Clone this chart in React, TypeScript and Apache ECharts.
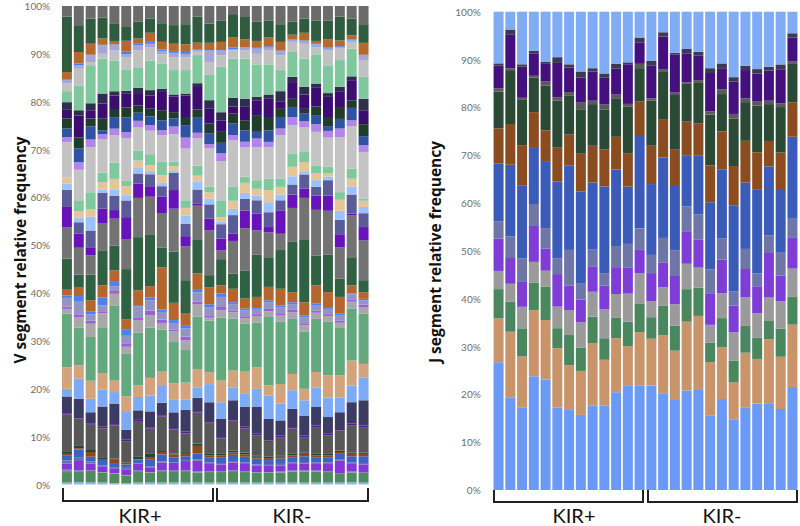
import React, { useEffect, useRef } from "react";
import * as echarts from "echarts";

// ---------- categories ----------
const samples = [
  "P01", "P02", "P03", "P04", "P05", "P06", "P07", "P08", "P09", "P10", "P11", "P12", "P13",
  "N01", "N02", "N03", "N04", "N05", "N06", "N07", "N08", "N09", "N10", "N11", "N12", "N13",
];
const groupLabels = ["KIR+", "KIR-"];
const vTitle = "V segment relative frequency";
const jTitle = "J segment relative frequency";

// ---------- V segment data (bottom -> top), percent ----------
const vTiny = [0.4, 0.5, 0.4, 0.4, 0.3, 0.3, 0.4, 0.4, 0.4, 0.4, 0.4, 0.4, 0.4, 0.4, 0.4, 0.4, 0.4, 0.4, 0.4, 0.4, 0.4, 0.4, 0.4, 0.4, 0.5, 0.4];
const vGreenA = [2.2, 2.1, 2.4, 2.1, 2.0, 1.6, 2.4, 2.1, 2.4, 2.4, 2.4, 2.1, 2.2, 2.2, 2.4, 2.2, 2.1, 2.1, 2.1, 2.3, 2.3, 2.3, 2.2, 1.8, 2.0, 2.0];
const vLavA = [0.5, 0.3, 0.2, 0.1, 0.1, 0.1, 0.1, 0.1, 0.2, 0.1, 0.2, 0.3, 0.2, 0.2, 0.2, 0.2, 0.1, 0.1, 0.2, 0.2, 0.2, 0.2, 0.2, 0.2, 0.2, 0.2];
const vPurpleA = [1.3, 2.0, 1.4, 1.2, 1.0, 1.2, 1.5, 1.0, 1.6, 1.6, 1.9, 2.2, 1.5, 1.4, 1.6, 1.5, 1.4, 1.3, 1.3, 1.4, 1.5, 1.4, 1.5, 2.6, 1.6, 1.6];
const vSlateA = [0.6, 0.7, 0.4, 0.2, 0.1, 0.3, 0.1, 0.2, 0.2, 0.1, 0.2, 0.3, 0.3, 0.3, 0.3, 0.3, 0.2, 0.2, 0.3, 0.3, 0.3, 0.3, 0.3, 0.3, 0.3, 0.3];
const vBlueA = [1.0, 1.7, 1.0, 1.1, 0.8, 0.7, 0.7, 1.5, 1.5, 1.1, 0.8, 1.2, 1.0, 1.2, 1.3, 1.2, 1.2, 1.0, 1.1, 1.1, 1.2, 1.1, 1.1, 1.1, 1.3, 1.4];
const vBrownA = [0.4, 0.3, 1.0, 0.1, 1.0, 0.4, 0.1, 0.3, 0.5, 0.6, 0.7, 1.6, 0.5, 0.4, 0.5, 0.5, 0.4, 0.4, 0.4, 0.4, 0.5, 0.4, 0.4, 0.4, 0.5, 0.5];
const vDkGreenA = [0.4, 0.6, 0.4, 0.5, 0.1, 0.1, 0.6, 0.8, 0.2, 0.2, 0.2, 0.5, 0.3, 0.3, 0.4, 0.4, 0.3, 0.3, 0.3, 0.3, 0.3, 0.3, 0.3, 0.3, 0.3, 0.3];
const vDkGray = [7.8, 5.6, 5.3, 6.0, 6.9, 4.4, 7.2, 5.3, 7.2, 5.0, 3.9, 6.5, 6.3, 3.2, 6.0, 5.0, 4.2, 3.1, 3.8, 5.3, 3.2, 5.6, 3.9, 4.2, 5.7, 5.3];
const vDkPurple = [0.3, 0.3, 0.3, 0.4, 0.3, 0.3, 0.4, 0.3, 0.3, 0.3, 0.4, 0.3, 0.3, 0.3, 0.3, 0.4, 0.3, 0.3, 0.3, 0.3, 0.3, 0.3, 0.3, 0.3, 0.3, 0.3];
const vNavy = [3.5, 3.8, 2.3, 4.2, 4.3, 2.1, 2.0, 3.3, 2.6, 3.3, 4.5, 2.8, 4.2, 3.8, 4.2, 4.2, 5.6, 4.5, 3.2, 3.8, 4.2, 3.9, 3.5, 3.5, 4.5, 5.3];
const vLBlue = [1.6, 4.2, 2.8, 3.5, 2.4, 3.7, 2.8, 3.3, 3.5, 2.6, 2.2, 2.1, 3.8, 3.5, 2.7, 2.8, 3.8, 4.9, 3.5, 3.9, 3.2, 4.1, 4.1, 3.1, 3.5, 4.8];
const vTan = [4.5, 2.8, 3.8, 3.5, 2.4, 3.3, 2.4, 3.7, 3.0, 3.5, 3.5, 3.8, 2.5, 4.5, 3.5, 4.5, 4.5, 2.1, 4.1, 3.4, 2.4, 3.2, 4.6, 4.6, 5.2, 2.8];
const vMidGreen = [11.2, 7.9, 9.1, 9.6, 15.7, 8.9, 11.0, 10.5, 8.8, 8.6, 6.8, 11.1, 10.8, 13.2, 10.9, 10.0, 9.3, 14.3, 13.0, 11.5, 12.0, 11.1, 11.2, 9.9, 10.8, 10.5];
const vGray = [1.0, 2.1, 2.8, 2.9, 2.4, 1.5, 2.6, 2.6, 1.4, 2.3, 2.0, 2.6, 0.6, 1.5, 1.3, 1.2, 1.4, 1.2, 1.3, 1.4, 1.3, 1.3, 1.2, 1.1, 1.5, 1.4];
const vPurple2 = [0.5, 0.7, 0.6, 0.3, 0.6, 0.6, 0.5, 1.0, 0.7, 0.3, 0.8, 0.6, 0.5, 0.7, 0.4, 0.4, 0.4, 0.5, 0.5, 0.5, 0.4, 0.4, 0.4, 0.4, 0.5, 0.5];
const vLavGray = [1.8, 2.6, 1.4, 1.4, 1.0, 1.7, 2.4, 2.1, 1.6, 1.4, 1.7, 1.9, 1.7, 2.1, 1.3, 1.2, 1.1, 1.4, 1.2, 1.2, 1.2, 1.2, 1.1, 1.2, 1.0, 0.9];
const vBlue2 = [0.5, 1.2, 0.5, 1.6, 0.9, 1.4, 0.3, 0.6, 0.5, 0.6, 0.7, 0.7, 0.6, 0.7, 0.4, 0.4, 0.4, 0.4, 0.4, 0.4, 0.4, 0.3, 0.4, 0.3, 0.2, 0.3];
const vBrown2 = [1.2, 1.9, 2.4, 2.6, 2.4, 2.1, 3.1, 2.4, 8.8, 3.6, 2.4, 3.3, 3.5, 1.7, 2.8, 2.1, 2.1, 2.8, 3.5, 2.1, 2.8, 3.8, 3.1, 3.5, 1.7, 1.4];
const vDkGreen2 = [6.5, 2.6, 5.4, 7.3, 5.2, 10.5, 11.1, 10.7, 4.2, 10.7, 7.0, 7.0, 2.6, 5.5, 3.2, 5.9, 8.8, 6.2, 8.1, 10.5, 13.0, 6.2, 7.8, 3.8, 5.9, 2.5];
const vGray2 = [6.6, 5.6, 4.0, 5.7, 5.6, 6.3, 8.2, 8.0, 7.2, 9.0, 7.1, 7.2, 9.4, 1.8, 6.8, 8.8, 5.1, 5.2, 3.4, 7.1, 8.8, 9.6, 9.2, 6.6, 8.8, 8.3];
const vPurple3 = [4.2, 2.9, 1.7, 3.0, 1.8, 4.6, 3.0, 2.2, 3.4, 3.9, 2.1, 0.5, 2.4, 2.5, 1.5, 3.7, 3.5, 1.1, 4.9, 2.8, 1.9, 3.0, 3.2, 2.7, 0.3, 2.8];
const vSlate2 = [3.6, 2.4, 3.5, 3.3, 3.0, 3.5, 2.1, 2.5, 2.2, 3.6, 2.6, 2.9, 3.0, 3.0, 3.9, 2.5, 2.8, 3.1, 2.1, 2.1, 3.0, 1.8, 3.2, 3.0, 4.0, 2.9];
const vLBlue2 = [1.3, 1.0, 2.9, 0.7, 1.2, 1.1, 1.3, 0.7, 0.7, 0.4, 1.7, 1.7, 1.2, 0.5, 1.3, 1.2, 1.0, 2.1, 1.2, 1.7, 0.5, 1.4, 0.7, 1.9, 1.7, 1.3];
const vTan2 = [1.3, 1.3, 1.6, 1.6, 2.3, 1.9, 1.4, 1.2, 1.6, 1.0, 1.6, 1.2, 1.3, 1.0, 1.7, 2.1, 1.4, 2.5, 1.6, 2.0, 2.1, 1.5, 0.8, 2.3, 1.6, 1.3];
const vLGreen = [0.0, 2.3, 3.5, 1.9, 3.4, 1.1, 2.1, 2.3, 2.8, 0.9, 1.6, 2.1, 1.2, 3.5, 2.9, 1.3, 1.8, 2.4, 1.7, 2.8, 2.1, 1.6, 1.3, 1.6, 2.1, 0.4];
const vLGray = [7.4, 6.4, 9.4, 7.0, 5.7, 9.0, 4.8, 4.9, 5.6, 5.8, 10.8, 5.8, 8.0, 8.2, 9.7, 6.2, 6.9, 6.6, 9.1, 5.9, 5.1, 7.0, 6.1, 11.5, 8.9, 9.8];
const vLavender = [1.0, 1.6, 1.6, 1.1, 1.4, 1.2, 1.4, 1.2, 1.0, 1.6, 2.3, 1.1, 0.9, 1.6, 1.1, 1.1, 1.8, 1.1, 1.4, 1.7, 1.3, 1.6, 1.4, 1.8, 1.2, 1.4];
const vBlue3 = [1.8, 2.8, 2.7, 0.8, 2.4, 3.1, 1.7, 1.8, 2.1, 1.7, 2.6, 3.3, 2.2, 2.2, 2.5, 2.4, 1.4, 2.4, 2.4, 2.1, 1.6, 1.9, 1.0, 2.0, 2.6, 1.9];
const vDkGreen3 = [2.1, 2.3, 1.7, 2.5, 1.7, 2.1, 1.5, 1.6, 2.1, 1.3, 1.7, 1.6, 2.1, 2.3, 2.0, 2.1, 3.5, 2.8, 1.7, 1.7, 1.0, 1.8, 1.9, 2.3, 1.6, 2.5];
const vDkPurple2 = [1.8, 4.6, 1.7, 3.1, 2.8, 3.0, 2.6, 2.8, 4.0, 3.3, 4.5, 4.9, 3.1, 2.4, 1.5, 2.8, 3.1, 3.8, 1.6, 3.5, 3.0, 3.9, 4.2, 3.5, 4.2, 2.9];
const vDkSlate = [1.6, 1.1, 1.5, 2.1, 0.9, 0.5, 1.1, 1.1, 0.5, 0.4, 0.4, 0.6, 1.8, 1.7, 1.8, 1.7, 0.7, 0.9, 2.1, 1.1, 1.6, 0.9, 0.8, 0.9, 0.8, 2.4];
const vLGreen2 = [2.3, 5.2, 7.9, 7.3, 6.4, 4.5, 4.3, 6.2, 5.3, 5.1, 4.9, 5.9, 5.4, 9.5, 8.2, 8.4, 6.8, 6.3, 4.4, 5.2, 5.9, 6.1, 5.8, 5.6, 5.8, 4.6];
const vLGray2 = [1.6, 3.5, 0.7, 1.0, 2.1, 2.6, 3.5, 2.8, 1.9, 2.7, 2.7, 0.7, 2.6, 2.4, 1.7, 1.7, 2.2, 2.9, 3.1, 2.1, 3.1, 1.5, 3.1, 2.4, 1.4, 3.5];
const vLavGray2 = [0.7, 0.7, 1.4, 1.8, 1.2, 0.6, 1.1, 0.7, 0.7, 0.9, 0.7, 0.3, 2.4, 1.0, 0.3, 0.6, 1.1, 0.6, 0.9, 0.3, 0.6, 0.6, 0.4, 0.3, 0.3, 1.0];
const vBlue4 = [0.1, 0.4, 0.1, 0.1, 0.1, 0.5, 0.3, 0.4, 0.3, 0.4, 0.4, 0.2, 0.1, 0.1, 0.3, 0.1, 0.3, 0.3, 0.1, 0.2, 0.1, 0.1, 0.2, 0.2, 0.2, 0.1];
const vBrown3 = [1.6, 2.4, 2.3, 1.3, 0.7, 2.3, 1.1, 1.9, 1.6, 1.5, 1.6, 1.4, 1.5, 1.7, 2.2, 1.6, 1.3, 1.8, 1.8, 1.0, 1.6, 0.6, 1.7, 1.2, 0.9, 2.5];
const vDkGreen4 = [11.6, 5.4, 5.3, 4.4, 3.7, 2.9, 3.5, 3.0, 3.9, 3.9, 4.2, 5.5, 4.0, 4.4, 4.8, 4.7, 4.0, 3.6, 3.7, 2.7, 3.0, 4.2, 3.9, 5.0, 3.5, 3.9];
const vGrayTop = [2.2, 4.2, 2.6, 2.4, 3.6, 4.4, 3.3, 2.6, 3.6, 4.0, 3.8, 2.2, 3.7, 3.1, 1.7, 2.3, 3.3, 3.0, 3.8, 3.3, 2.6, 3.1, 3.1, 2.2, 2.6, 3.8];

// ---------- J segment data (bottom -> top), percent ----------
const jLBlue = [26.7, 19.4, 17.3, 23.8, 23.1, 17.2, 16.9, 15.7, 17.6, 17.6, 20.4, 21.8, 21.8, 21.8, 20.1, 18.8, 20.8, 20.9, 15.5, 19.0, 14.8, 17.3, 18.1, 18.1, 16.9, 21.5];
const jTan = [9.2, 13.7, 10.6, 13.8, 12.4, 12.4, 9.2, 9.2, 13.0, 9.6, 11.3, 8.3, 11.2, 9.8, 12.3, 10.3, 14.4, 15.5, 11.2, 10.8, 7.7, 11.4, 9.3, 13.4, 10.9, 13.0];
const jGreen = [6.1, 6.3, 5.9, 5.8, 7.0, 4.2, 6.3, 4.9, 5.6, 4.5, 4.2, 5.1, 5.9, 4.5, 6.1, 5.2, 6.8, 5.9, 4.1, 6.1, 4.6, 5.6, 4.5, 3.8, 5.9, 5.9];
const jGray = [3.8, 3.7, 4.5, 4.3, 3.3, 4.5, 5.2, 5.3, 5.2, 6.1, 5.0, 5.9, 6.4, 3.3, 3.9, 4.5, 5.3, 4.2, 3.7, 5.2, 5.9, 6.0, 5.1, 4.9, 5.7, 5.8];
const jPurple = [6.8, 5.4, 5.2, 7.5, 4.6, 6.8, 5.1, 4.7, 5.2, 4.9, 5.6, 5.4, 4.9, 5.9, 5.2, 5.9, 6.8, 5.9, 6.6, 7.0, 5.6, 5.9, 5.6, 9.3, 5.3, 6.4];
const jSlate = [3.6, 4.5, 4.9, 4.6, 4.3, 3.3, 7.5, 3.3, 3.6, 2.6, 4.4, 5.0, 4.5, 3.8, 5.1, 5.4, 5.2, 5.2, 5.0, 4.5, 3.0, 4.2, 2.7, 3.7, 4.8, 4.0];
const jBlue = [12.1, 15.0, 15.2, 11.9, 14.0, 16.0, 17.6, 19.3, 14.0, 18.1, 16.0, 12.0, 19.3, 14.8, 16.8, 13.4, 10.7, 12.4, 14.0, 14.4, 18.0, 13.9, 17.6, 14.4, 13.1, 17.1];
const jBrown = [7.3, 8.5, 8.5, 7.3, 6.4, 7.1, 6.5, 7.9, 7.7, 7.7, 6.8, 7.0, 7.2, 8.0, 7.9, 7.7, 7.0, 6.6, 7.7, 7.9, 8.2, 8.7, 7.7, 5.3, 7.8, 7.2];
const jDkGreen = [7.7, 11.1, 9.6, 7.2, 9.4, 9.8, 8.1, 9.3, 8.7, 8.4, 7.9, 9.7, 7.0, 9.4, 10.0, 11.3, 7.9, 8.5, 10.6, 7.8, 9.9, 8.1, 9.8, 7.7, 9.5, 8.0];
const jDkGray = [0.7, 0.6, 0.3, 0.4, 0.8, 0.7, 0.8, 1.5, 0.7, 1.0, 0.9, 0.6, 0.9, 0.5, 0.6, 0.5, 0.3, 0.6, 0.7, 1.0, 1.0, 0.8, 0.8, 0.7, 0.8, 0.5];
const jDkPurple = [4.7, 7.1, 6.5, 4.7, 3.7, 7.2, 5.1, 5.1, 6.1, 5.6, 5.4, 8.3, 4.5, 6.8, 6.8, 8.0, 6.0, 5.1, 8.0, 4.4, 6.8, 5.9, 5.9, 6.3, 7.1, 5.0];
const jDkSlate = [0.5, 1.0, 0.5, 0.5, 0.4, 1.2, 0.7, 1.3, 0.7, 0.9, 1.0, 0.4, 1.0, 1.0, 0.9, 0.3, 1.0, 0.8, 1.0, 1.0, 0.9, 0.9, 0.9, 0.8, 1.0, 0.9];
const jTop = [10.8, 3.7, 11.0, 8.2, 10.5, 9.5, 11.0, 12.5, 11.8, 12.9, 10.9, 10.6, 5.4, 10.3, 4.3, 8.6, 7.8, 8.4, 11.8, 10.8, 13.7, 11.3, 12.0, 11.5, 11.0, 4.5];

const vData = [
  vTiny, vGreenA, vLavA, vPurpleA, vSlateA, vBlueA, vBrownA, vDkGreenA, vDkGray, vDkPurple,
  vNavy, vLBlue, vTan, vMidGreen, vGray, vPurple2, vLavGray, vBlue2, vBrown2, vDkGreen2,
  vGray2, vPurple3, vSlate2, vLBlue2, vTan2, vLGreen, vLGray, vLavender, vBlue3, vDkGreen3,
  vDkPurple2, vDkSlate, vLGreen2, vLGray2, vLavGray2, vBlue4, vBrown3, vDkGreen4, vGrayTop,
];
const vColors = [
  "#8db3f0", "#4f8b5f", "#8585b5", "#8436d6", "#6670a6", "#3c62c4", "#8a4a1c", "#24452f", "#575757", "#5b1a9e",
  "#3c3b63", "#7daaf5", "#d3a37b", "#62aa7d", "#a8a8a8", "#9d5fdc", "#9494c4", "#4d80f0", "#b4662c", "#2f6142",
  "#737373", "#6713b9", "#5b5b98", "#9cc2fa", "#e6c49a", "#80c89e", "#c3c3c3", "#b385e8", "#2f52a3", "#1f3d2a",
  "#3d0c70", "#2f2e4f", "#7fc79d", "#c1c1c1", "#a5a5d6", "#4a7ef0", "#b5692e", "#2f5b3e", "#6b6b6b",
];
const jData = [jLBlue, jTan, jGreen, jGray, jPurple, jSlate, jBlue, jBrown, jDkGreen, jDkGray, jDkPurple, jDkSlate, jTop];
const jColors = ["#6a9af5", "#c9946a", "#4b875e", "#9a9a9a", "#7d3dd6", "#6d76a6", "#3a5cb8", "#8b4d1f", "#2b4a35", "#5a5a5a", "#43107e", "#3b3a50", "#80acf6"];

function normalise(sets: number[][]): number[][] {
  const totals = samples.map((_, i) => sets.reduce((s, arr) => s + arr[i], 0));
  return sets.map((arr) => arr.map((v, i) => (v * 100) / totals[i]));
}

const FONT = "Lato, 'Open Sans', sans-serif";
const TITLE_FONT = "'Open Sans', Lato, sans-serif";

export default function App() {
  const ref = useRef<HTMLDivElement>(null);
  useEffect(() => {
    if (!ref.current) return;
    const chart = echarts.init(ref.current, undefined, { renderer: "svg" });
    const vn = normalise(vData);
    const jn = normalise(jData);
    const series: any[] = [];
    vn.forEach((d, k) =>
      series.push({
        type: "bar", name: "V" + (k + 1), stack: "v", xAxisIndex: 0, yAxisIndex: 0,
        data: d, itemStyle: { color: vColors[k] }, barCategoryGap: "16%",
      })
    );
    jn.forEach((d, k) =>
      series.push({
        type: "bar", name: "J" + (k + 1), stack: "j", xAxisIndex: 1, yAxisIndex: 1,
        data: d, itemStyle: { color: jColors[k] }, barCategoryGap: "15%",
      })
    );
    const yAx = (margin: number) => ({
      type: "value", min: 0, max: 100, interval: 10,
      axisLine: { show: false }, axisTick: { show: false }, splitLine: { show: false },
      axisLabel: { formatter: "{value}%", color: "#6e6e6e", fontSize: 10, fontFamily: FONT, margin },
    });
    const xAx = (gi: number) => ({
      type: "category", gridIndex: gi, data: samples,
      axisLine: { show: false }, axisTick: { show: false }, axisLabel: { show: false },
    });
    const bracket = (x0: number, x1: number, yTop: number, yBot: number) => ({
      type: "polyline",
      shape: { points: [[x0, yTop], [x0, yBot], [x1, yBot], [x1, yTop]] },
      style: { stroke: "#222", lineWidth: 2, fill: null },
    });
    const label = (text: string, x: number, y: number) => ({
      type: "text", x, y,
      style: { text, fontSize: 20, fontFamily: FONT, fill: "#111", textAlign: "center", textVerticalAlign: "middle" },
    });
    const title = (text: string, x: number, y: number) => ({
      type: "text", x, y, rotation: Math.PI / 2,
      style: { text, fontSize: 15.5, fontWeight: "bold", fontFamily: TITLE_FONT, fill: "#111", textAlign: "center", textVerticalAlign: "middle" },
    });
    chart.setOption({
      animation: false,
      backgroundColor: "#ffffff",
      grid: [
        { left: 61, top: 6, width: 308.5, height: 478.5 },
        { left: 492.7, top: 11.7, width: 305.6, height: 478.3 },
      ],
      xAxis: [xAx(0), xAx(1)],
      yAxis: [{ ...yAx(11), gridIndex: 0 }, { ...yAx(12), gridIndex: 1 }],
      series,
      graphic: [
        bracket(63, 213, 488, 501),
        bracket(217, 368, 488, 501),
        bracket(494, 643, 490, 502),
        bracket(648, 797, 490, 502),
        label(groupLabels[0], 140, 515),
        label(groupLabels[1], 292, 515),
        label(groupLabels[0], 574, 515),
        label(groupLabels[1], 722, 515),
        title(vTitle, 20, 250),
        title(jTitle, 435, 252),
      ],
    });
    return () => chart.dispose();
  }, []);
  return <div ref={ref} style={{ position: "fixed", left: 0, top: 0, width: 800, height: 526 }} />;
}
